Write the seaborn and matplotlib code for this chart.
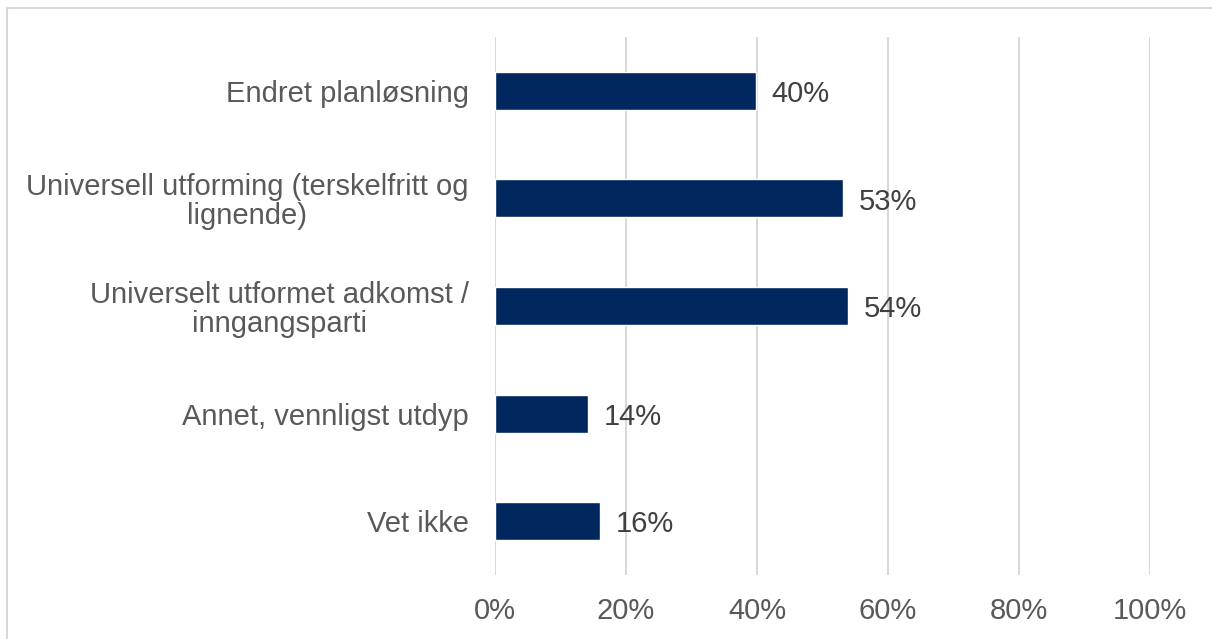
import matplotlib
matplotlib.use("Agg")
import matplotlib.pyplot as plt
import seaborn as sns
import pandas as pd
from matplotlib.patches import Rectangle
from matplotlib.ticker import PercentFormatter

# data
categories = [
    "Endret planløsning",
    "Universell utforming (terskelfritt og\nlignende)",
    "Universelt utformet adkomst /\ninngangsparti",
    "Annet, vennligst utdyp",
    "Vet ikke",
]
shares = [39.8, 53.1, 53.9, 14.2, 16.0]
xticks = [0, 20, 40, 60, 80, 100]

df = pd.DataFrame({"kategori": categories, "andel": shares})

sns.set_style("white")
plt.rcParams["font.family"] = ["Liberation Sans", "DejaVu Sans"]

fig = plt.figure(figsize=(12.12, 6.39), dpi=100)
ax = fig.add_axes([495 / 1212, 64 / 639, 655 / 1212, 538 / 639])

sns.barplot(data=df, x="andel", y="kategori", color="#00285F", width=0.355,
            saturation=1, ax=ax)

ax.set_xlim(0, 100)
ax.set_xticks(xticks)
ax.xaxis.set_major_formatter(PercentFormatter(decimals=0))
ax.set_xlabel("")
ax.set_ylabel("")
ax.grid(axis="x", color="#D9D9D9", linewidth=1.5)
ax.set_axisbelow(True)
for s in ax.spines.values():
    s.set_visible(False)
ax.tick_params(axis="x", length=0, pad=16, labelsize=21, labelcolor="#595959")
ax.tick_params(axis="y", length=0, pad=19, labelsize=21, labelcolor="#595959")
for lab in ax.get_yticklabels():
    lab.set_multialignment("center")
    lab.set_linespacing(1.05)

# value labels
for i, v in enumerate(shares):
    ax.text(v + 2.4, i + 0.03, f"{round(v)}%", va="center", ha="left",
            fontsize=21, color="#404040")

# outer frame (cut off at right and bottom)
fig.patches.append(Rectangle((7 / 1212, -0.1), 1.2, 1 - 7.5 / 639 + 0.1,
                             transform=fig.transFigure, fill=False,
                             edgecolor="#D9D9D9", linewidth=1.5))

fig.savefig("out.png", dpi=100)
